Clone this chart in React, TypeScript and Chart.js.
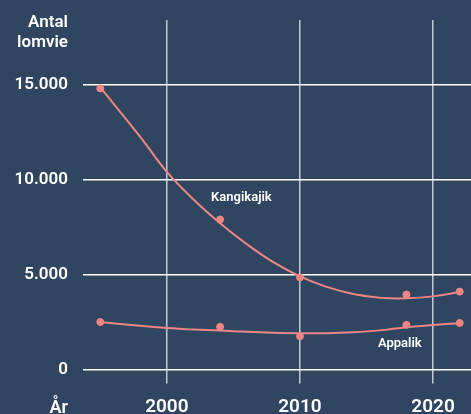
import React, { useEffect, useRef } from "react";
import { Chart, registerables } from "chart.js";

Chart.register(...registerables);

const YEARS = [1995, 2004, 2010, 2018, 2022];
const KANGIKAJIK = [14800, 7900, 4850, 3950, 4100];
const APPALIK = [2500, 2250, 1750, 2350, 2450];

const TREND_YEARS = [1995, 1998, 2000, 2002, 2004, 2006, 2008, 2010, 2012, 2014, 2016, 2018, 2020, 2022];
const KANGIKAJIK_TREND = [14850, 12250, 10400, 8950, 7700, 6600, 5650, 4900, 4350, 3980, 3780, 3750, 3850, 4080];
const APPALIK_TREND = [2500, 2300, 2190, 2110, 2050, 1990, 1940, 1910, 1910, 1960, 2060, 2230, 2340, 2440];

const X_TICKS = [2000, 2010, 2020];
const Y_TICKS = [0, 5000, 10000, 15000];

const SERIES_LABELS = ["Kangikajik", "Appalik"];
const Y_TITLE = ["Antal", "lomvie"];
const X_TITLE = "År";

const BG = "#2f4560";
const SALMON = "#ef8585";
const FONT = "Roboto, 'DejaVu Sans', sans-serif";

const toXY = (xs: number[], ys: number[]) => xs.map((x, i) => ({ x, y: ys[i] }));

const fmt = (v: number) => v.toLocaleString("de-DE");

const zeroPad = (s: any) => {
  s.paddingTop = 0;
  s.paddingBottom = 0;
  s.paddingLeft = 0;
  s.paddingRight = 0;
};

const textPlugin = {
  id: "texts",
  afterDraw(chart: any) {
    const { ctx, chartArea, scales } = chart;
    ctx.save();
    ctx.fillStyle = "#ffffff";
    ctx.font = `600 13px ${FONT}`;
    ctx.textAlign = "center";
    ctx.textBaseline = "middle";
    ctx.fillText(SERIES_LABELS[0], scales.x.getPixelForValue(2005.6), scales.y.getPixelForValue(9040));
    ctx.fillText(SERIES_LABELS[1], scales.x.getPixelForValue(2017.5), scales.y.getPixelForValue(1380));
    ctx.font = `600 17px ${FONT}`;
    ctx.textAlign = "right";
    ctx.textBaseline = "alphabetic";
    const rx = chartArea.left - 15;
    ctx.fillText(Y_TITLE[0], rx, 27);
    ctx.fillText(Y_TITLE[1], rx, 47);
    ctx.font = `600 18px ${FONT}`;
    ctx.fillText(X_TITLE, rx, 413);
    ctx.restore();
  },
};

export default function App() {
  const ref = useRef<HTMLCanvasElement>(null);

  useEffect(() => {
    if (!ref.current) return;
    const chart = new Chart(ref.current, {
      type: "scatter",
      data: {
        datasets: [
          {
            data: toXY(YEARS, KANGIKAJIK),
            backgroundColor: SALMON,
            borderColor: SALMON,
            pointRadius: 3.5,
            showLine: false,
            order: 0,
          },
          {
            data: toXY(TREND_YEARS, KANGIKAJIK_TREND),
            borderColor: SALMON,
            borderWidth: 2,
            pointRadius: 0,
            showLine: true,
            tension: 0.4,
            order: 1,
          },
          {
            data: toXY(YEARS, APPALIK),
            backgroundColor: SALMON,
            borderColor: SALMON,
            pointRadius: 3.5,
            showLine: false,
            order: 0,
          },
          {
            data: toXY(TREND_YEARS, APPALIK_TREND),
            borderColor: SALMON,
            borderWidth: 2,
            pointRadius: 0,
            showLine: true,
            tension: 0.4,
            order: 1,
          },
        ],
      },
      options: {
        animation: false,
        responsive: false,
        maintainAspectRatio: false,
        layout: { autoPadding: false, padding: { top: 20, right: 0, left: 0, bottom: 0 } },
        plugins: { legend: { display: false }, tooltip: { enabled: false } },
        scales: {
          x: {
            type: "linear",
            min: 1993.7,
            max: 2022.85,
            afterBuildTicks: (s: any) => {
              s.ticks = X_TICKS.map((v) => ({ value: v }));
            },
            afterFit: (s: any) => {
              s.height = 44.5;
              zeroPad(s);
            },
            grid: { color: "#c3c9d3", lineWidth: 1.5, tickLength: 14, drawTicks: true },
            border: { display: false },
            ticks: {
              color: "#ffffff",
              font: { family: FONT, size: 19, weight: "600" },
              padding: 12,
              maxRotation: 0,
              callback: (v: any) => String(v),
            },
          },
          y: {
            min: 0,
            max: 18400,
            afterBuildTicks: (s: any) => {
              s.ticks = Y_TICKS.map((v) => ({ value: v }));
            },
            afterFit: (s: any) => {
              s.width = 83;
              zeroPad(s);
            },
            grid: { color: "#ffffff", lineWidth: 1.5, drawTicks: false },
            border: { display: false },
            ticks: {
              color: "#ffffff",
              font: { family: FONT, size: 17, weight: "600" },
              padding: 15,
              callback: (v: any) => fmt(Number(v)),
            },
          },
        },
      },
      plugins: [textPlugin],
    });
    return () => chart.destroy();
  }, []);

  return (
    <div style={{ position: "fixed", left: 0, top: 0, width: 471, height: 414, background: BG }}>
      <canvas ref={ref} width={471} height={414} style={{ display: "block" }} />
    </div>
  );
}
